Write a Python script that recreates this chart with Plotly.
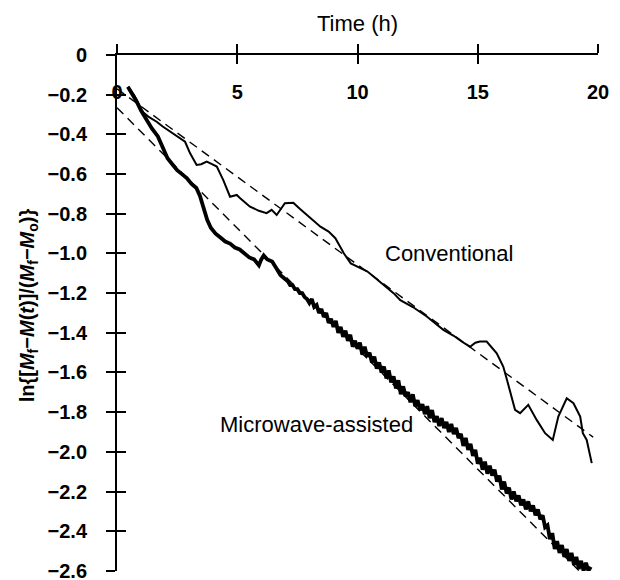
import plotly.graph_objects as go

# ---- data ----
conv_t = [0.45, 0.7, 1.0, 1.1, 1.3, 1.65, 1.9, 2.2, 2.5, 2.83, 3.04, 3.31, 3.5, 3.73, 3.95,
          4.15, 4.3, 4.42, 4.7, 4.98, 5.11, 5.53, 5.9, 6.22, 6.43, 6.64, 6.98, 7.33, 7.6,
          7.89, 8.2, 8.46, 8.8, 9.08, 9.25, 9.43, 9.72, 10.0, 10.4, 10.68, 11.1, 11.5,
          11.78, 12.3, 12.88, 13.2, 13.57, 14.0, 14.33, 14.68, 14.9, 15.09, 15.37, 15.79,
          16.06, 16.2, 16.34, 16.55, 16.76, 17.1, 17.45, 17.8, 18.12, 18.35, 18.7, 18.98,
          19.26, 19.37, 19.53, 19.74]
conv_v = [-0.16, -0.20, -0.27, -0.29, -0.31, -0.336, -0.36, -0.386, -0.41, -0.437, -0.495,
          -0.554, -0.55, -0.537, -0.55, -0.562, -0.60, -0.63, -0.714, -0.705, -0.72, -0.764,
          -0.785, -0.797, -0.78, -0.806, -0.747, -0.744, -0.775, -0.806, -0.84, -0.865,
          -0.89, -0.923, -0.96, -0.999, -1.05, -1.065, -1.09, -1.117, -1.16, -1.20, -1.235,
          -1.27, -1.318, -1.35, -1.385, -1.415, -1.444, -1.47, -1.45, -1.444, -1.444,
          -1.503, -1.57, -1.63, -1.688, -1.788, -1.805, -1.763, -1.839, -1.906, -1.94,
          -1.822, -1.73, -1.755, -1.822, -1.906, -1.94, -2.057]

mw_t = [0.45, 0.6, 0.8, 1.0, 1.2, 1.45, 1.7, 1.9, 2.1, 2.3, 2.5, 2.7, 2.9, 3.1, 3.3, 3.45,
        3.6, 3.75, 3.9, 4.1, 4.3, 4.5, 4.7, 4.9, 5.1, 5.3, 5.5, 5.7, 5.9, 6.0, 6.1, 6.25,
        6.45, 6.6, 6.8, 7.0, 7.1, 7.2, 7.3, 7.4, 7.5, 7.6, 7.7, 7.8, 7.9,
        8.0, 8.1, 8.2, 8.3, 8.4, 8.5, 8.6, 8.7, 8.8, 8.9, 9.0, 9.1, 9.2, 9.3, 9.4, 9.5,
        9.6, 9.7, 9.8, 9.9, 10.0, 10.1, 10.2, 10.3, 10.4, 10.5, 10.6, 10.7, 10.8, 10.9,
        11.0, 11.1, 11.2, 11.3, 11.4, 11.5, 11.6, 11.7, 11.8, 11.9, 12.0, 12.1, 12.2,
        12.3, 12.4, 12.5, 12.6, 12.7, 12.8, 12.9, 13.0, 13.1, 13.2, 13.3, 13.4, 13.5,
        13.6, 13.7, 13.8, 13.9, 14.0, 14.1, 14.2, 14.3, 14.4, 14.5, 14.6, 14.7, 14.8,
        14.9, 15.0, 15.1, 15.2, 15.3, 15.4, 15.5, 15.6, 15.7, 15.8, 15.9, 16.0, 16.1,
        16.2, 16.3, 16.4, 16.5, 16.6, 16.7, 16.8, 16.9, 17.0, 17.1, 17.2, 17.3, 17.4,
        17.5, 17.6, 17.7, 17.8, 17.9, 18.0, 18.1, 18.2, 18.3, 18.4, 18.5, 18.6, 18.7,
        18.8, 18.9, 19.0, 19.1, 19.2, 19.3, 19.4, 19.5, 19.6, 19.7]
mw_v = [-0.16, -0.19, -0.23, -0.28, -0.32, -0.37, -0.41, -0.46, -0.52, -0.55, -0.58, -0.60,
        -0.62, -0.65, -0.67, -0.71, -0.77, -0.83, -0.87, -0.90, -0.92, -0.94, -0.95, -0.97,
        -0.98, -1.00, -1.02, -1.03, -1.06, -1.03, -1.01, -1.03, -1.04, -1.07, -1.11, -1.13,
        -1.14, -1.16, -1.16, -1.18, -1.18, -1.20, -1.20, -1.22, -1.23,
        -1.25, -1.23, -1.27, -1.26, -1.30, -1.28, -1.32, -1.30, -1.35, -1.33, -1.37, -1.34,
        -1.40, -1.37, -1.42, -1.39, -1.44, -1.41, -1.47, -1.44, -1.48, -1.45, -1.51, -1.47,
        -1.52, -1.50, -1.55, -1.52, -1.58, -1.55, -1.60, -1.57, -1.63, -1.59, -1.65, -1.62,
        -1.68, -1.64, -1.71, -1.67, -1.72, -1.70, -1.75, -1.71, -1.77, -1.74, -1.79, -1.76,
        -1.81, -1.77, -1.83, -1.79, -1.85, -1.82, -1.87, -1.83, -1.88, -1.85, -1.90, -1.86,
        -1.91, -1.88, -1.93, -1.91, -1.97, -1.93, -1.99, -1.96, -2.02, -1.99, -2.06, -2.03,
        -2.09, -2.05, -2.11, -2.07, -2.12, -2.09, -2.15, -2.12, -2.19, -2.15, -2.21, -2.18,
        -2.24, -2.20, -2.25, -2.22, -2.27, -2.24, -2.29, -2.25, -2.30, -2.27, -2.32, -2.29,
        -2.34, -2.32, -2.38, -2.37, -2.44, -2.41, -2.49, -2.45, -2.51, -2.47, -2.53, -2.49,
        -2.55, -2.51, -2.57, -2.53, -2.59, -2.55, -2.60, -2.56, -2.60, -2.58]

conv_fit_t = [0.0, 19.8]
conv_fit_v = [-0.17, -1.926]
mw_fit_t = [0.0, 19.2]
mw_fit_v = [-0.265, -2.598]

x_ticks = [0, 5, 10, 15, 20]
y_ticks = [0, -0.2, -0.4, -0.6, -0.8, -1.0, -1.2, -1.4, -1.6, -1.8, -2.0, -2.2, -2.4, -2.6]
y_tick_text = ["0", "\u22120.2", "\u22120.4", "\u22120.6", "\u22120.8", "\u22121.0", "\u22121.2",
               "\u22121.4", "\u22121.6", "\u22121.8", "\u22122.0", "\u22122.2", "\u22122.4",
               "\u22122.6"]
x_tick_text = ["<b>0</b>", "<b>5</b>", "<b>10</b>", "<b>15</b>", "<b>20</b>"]
y_tick_text_b = ["<b>" + s + "</b>" for s in y_tick_text]

FONT = "Liberation Sans, Arial, sans-serif"
FS = 22

fig = go.Figure()
fig.add_trace(go.Scatter(x=conv_fit_t, y=conv_fit_v, mode="lines",
                         line=dict(color="black", width=1.4, dash="9px,6px")))
fig.add_trace(go.Scatter(x=mw_fit_t, y=mw_fit_v, mode="lines",
                         line=dict(color="black", width=1.4, dash="9px,6px")))
fig.add_trace(go.Scatter(x=conv_t, y=conv_v, mode="lines",
                         line=dict(color="black", width=2)))
fig.add_trace(go.Scatter(x=mw_t, y=mw_v, mode="lines",
                         line=dict(color="black", width=3.8)))

axis_common = dict(showgrid=False, zeroline=False, color="black", automargin=False)
tickfont = dict(family=FONT, size=20, color="black")
yr = [-2.6008, 0.0005]
fig.update_layout(
    width=620, height=580,
    margin=dict(l=117, r=22, t=55, b=9),
    paper_bgcolor="white", plot_bgcolor="white",
    showlegend=False,
    font=dict(family=FONT, size=FS, color="black"),
    xaxis=dict(range=[0, 20], side="top", showline=True, linewidth=2, linecolor="black",
               ticks="outside", ticklen=9, tickwidth=2, tickcolor="black",
               tickvals=x_ticks, showticklabels=False,
               title=dict(text="Time (h)", standoff=6, font=dict(size=FS, color="black")),
               anchor="y", **axis_common),
    xaxis2=dict(range=[0, 20], matches="x", overlaying="x", side="top", anchor="y",
                ticks="inside", ticklen=9, tickwidth=2, tickcolor="black",
                tickvals=x_ticks, ticktext=x_tick_text, ticklabelposition="inside",
                ticklabelstandoff=22, ticklabeloverflow="allow", tickfont=tickfont,
                showline=False, **axis_common),
    yaxis=dict(range=yr, showline=True, linewidth=2, linecolor="black",
               ticks="outside", ticklen=9, tickwidth=2, tickcolor="black",
               tickvals=y_ticks, ticktext=y_tick_text_b, ticklabelstandoff=15,
               ticklabeloverflow="allow", tickfont=tickfont, anchor="x", **axis_common),
    yaxis2=dict(range=yr, matches="y", overlaying="y", side="left",
                anchor="x", ticks="inside", ticklen=9, tickwidth=2, tickcolor="black",
                tickvals=y_ticks, showticklabels=False, showline=False, **axis_common),
)
# invisible trace to activate the overlay axes
fig.add_trace(go.Scatter(x=[0], y=[0], xaxis="x2", yaxis="y2", mode="markers",
                         marker=dict(opacity=0), hoverinfo="skip"))

ytitle = ("<b>ln{[<i>M</i><sub>f</sub>\u2212<i>M</i>(<i>t</i>)]/(<i>M</i><sub>f</sub>"
          "\u2212<i>M</i><sub>o</sub>)}</b>")
fig.add_annotation(text=ytitle, xref="paper", yref="paper", x=-0.185, y=0.515,
                   textangle=-90, showarrow=False, xanchor="center", yanchor="middle",
                   font=dict(size=20))
fig.add_annotation(text="Conventional", x=11.06, y=-1.0, xanchor="left", yanchor="middle",
                   showarrow=False, font=dict(size=FS))
fig.add_annotation(text="Microwave-assisted", x=4.2, y=-1.86, xanchor="left",
                   yanchor="middle", showarrow=False, font=dict(size=FS))

fig.write_html("out.html")
